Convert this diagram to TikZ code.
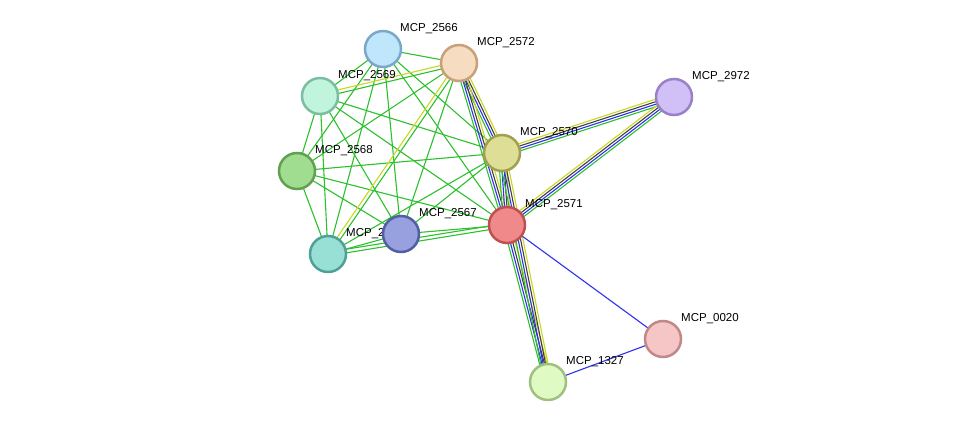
\documentclass[tikz,border=0pt]{standalone}
\usepackage{fontspec}
\setmainfont{Liberation Sans}
\usetikzlibrary{calc}
\definecolor{eg}{HTML}{2DC02D}
\definecolor{eb}{HTML}{3030F0}
\definecolor{ek}{HTML}{404040}
\definecolor{ey}{HTML}{C8D820}
\tikzset{
 pn/.style={circle,minimum size=36pt,inner sep=0pt,line width=2.5pt},
 lb/.style={anchor=south west,inner sep=0pt,font=\fontsize{11.5}{12}\selectfont},
 e/.style={line width=1.1pt}
}
\newcommand\bund[2]{\foreach \c/\o in {eg/-3.6,eb/-1.2,ek/1.2,ey/3.6}{\draw[e,\c] ($(#1)!\o pt!90:(#2)$) -- ($(#2)!\o pt!-90:(#1)$);}}
\begin{document}
\begin{tikzpicture}[x=1pt,y=-1pt]
\useasboundingbox (0,0) rectangle (975,428);
\coordinate (p2566) at (383,49);
\coordinate (p2572) at (459,63);
\coordinate (p2569) at (320,96);
\coordinate (p2972) at (674,97);
\coordinate (p2570) at (502,153);
\coordinate (p2568) at (297,171);
\coordinate (p2567) at (401,234);
\coordinate (p2571) at (507,225);
\coordinate (p2565) at (328,254);
\coordinate (p0020) at (663,339);
\coordinate (p1327) at (548,382);
% green cluster
\foreach \a/\b in {2566/2572,2566/2569,2566/2568,2566/2565,2566/2567,2566/2570,2566/2571,
 2569/2568,2569/2565,2569/2567,2569/2570,2569/2571,
 2568/2565,2568/2567,2568/2570,2568/2571,2568/2572,
 2565/2567,2565/2570,2567/2572,2567/2570,2567/2571}
 \draw[e,eg] (p\a) -- (p\b);
\foreach \a/\b/\cc in {2569/2572/ey,2565/2572/ey,2565/2571/eg}{
 \draw[e,eg] ($(p\a)!-1.8pt!90:(p\b)$) -- ($(p\b)!-1.8pt!-90:(p\a)$);
 \draw[e,\cc] ($(p\a)!1.8pt!90:(p\b)$) -- ($(p\b)!1.8pt!-90:(p\a)$);}
\bund{p2572}{p2570}
\bund{p2572}{p2571}
\bund{p2570}{p2571}
\bund{p2570}{p2972}
\bund{p2571}{p2972}
\bund{p2571}{p1327}
\bund{p2570}{p1327}
\draw[e,eb] (p2571) -- (p0020);
\draw[e,eb] (p0020) -- (p1327);
% labels
\node[lb] at (400,34) {MCP\_2566};
\node[lb] at (477,48) {MCP\_2572};
\node[lb] at (338,81) {MCP\_2569};
\node[lb] at (692,82) {MCP\_2972};
\node[lb] at (520,138) {MCP\_2570};
\node[lb] at (315,156) {MCP\_2568};
\node[lb] at (419,219) {MCP\_2567};
\node[lb] at (525,210) {MCP\_2571};
\node[lb] at (346,239) {MCP\_2565};
\node[lb] at (681,324) {MCP\_0020};
\node[lb] at (566,367) {MCP\_1327};
% nodes
\node[pn,fill={rgb,255:red,192;green,230;blue,251},draw={rgb,255:red,122;green,168;blue,200}] (n2566) at (p2566) {};
\node[pn,fill={rgb,255:red,246;green,220;blue,192},draw={rgb,255:red,200;green,160;blue,122}] (n2572) at (p2572) {};
\node[pn,fill={rgb,255:red,192;green,245;blue,220},draw={rgb,255:red,122;green,192;blue,160}] (n2569) at (p2569) {};
\node[pn,fill={rgb,255:red,208;green,192;blue,245},draw={rgb,255:red,154;green,128;blue,200}] (n2972) at (p2972) {};
\node[pn,fill={rgb,255:red,222;green,222;blue,150},draw={rgb,255:red,160;green,160;blue,80}] (n2570) at (p2570) {};
\node[pn,fill={rgb,255:red,160;green,221;blue,144},draw={rgb,255:red,96;green,160;blue,80}] (n2568) at (p2568) {};
\node[pn,fill={rgb,255:red,152;green,160;blue,224},draw={rgb,255:red,80;green,96;blue,160}] (n2567) at (p2567) {};
\node[pn,fill={rgb,255:red,240;green,138;blue,138},draw={rgb,255:red,192;green,80;blue,80}] (n2571) at (p2571) {};
\node[pn,fill={rgb,255:red,152;green,224;blue,214},draw={rgb,255:red,80;green,160;blue,152}] (n2565) at (p2565) {};
\node[pn,fill={rgb,255:red,246;green,198;blue,198},draw={rgb,255:red,192;green,136;blue,136}] (n0020) at (p0020) {};
\node[pn,fill={rgb,255:red,224;green,250;blue,196},draw={rgb,255:red,160;green,192;blue,128}] (n1327) at (p1327) {};
\end{tikzpicture}
\end{document}
